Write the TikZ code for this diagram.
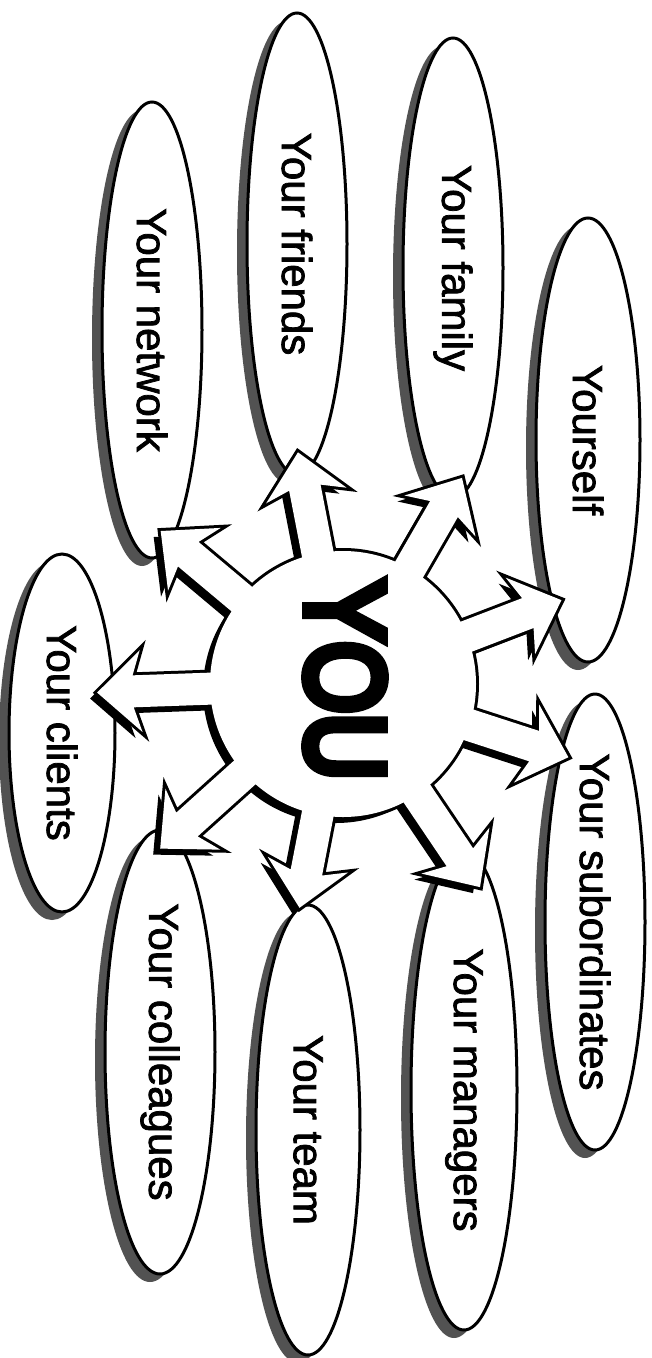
\documentclass[tikz,border=0pt]{standalone}
\usepackage{fontspec}
\setmainfont{Liberation Sans}
\newfontfamily\lblfont{Liberation Sans}[RawFeature={embolden=1.8}]
\newfontfamily\youfont{Liberation Sans}[RawFeature={embolden=9}]
\usetikzlibrary{shapes.geometric}
\tikzset{
  lbl/.style={font=\lblfont\fontsize{42}{48}\selectfont, rotate=-90, inner sep=0pt},
  ell/.style={draw=black, line width=3pt, fill=white},
  eshadow/.style={fill=black!68},
}
\def\hx{343}
\def\hy{684}
\newcommand\bub[6]{%
  \fill[eshadow] (#2-10,#3+8) ellipse [x radius=#4, y radius=#5];
  \draw[ell] (#2,#3) ellipse [x radius=#4, y radius=#5];
  \node[lbl] (#1) at (#2,#3) {#6};
}
\newcommand\hubshape[1]{%
  \path[#1] (\hx,\hy) circle [radius=133];
  \foreach \a/\l in {-140/238,-101/236,-60/238,-21/234,18/237,56/245,101/228,138/246,178/246}{
    \path[#1, shift={(\hx,\hy)}, rotate=-\a]
      (0,-16) -- (\l-36,-16) -- (\l-44,-41) -- (\l,0) -- (\l-44,41) -- (\l-36,16) -- (0,16) -- cycle;
  }
}
\begin{document}
\begin{tikzpicture}[x=1pt,y=-1pt]
\useasboundingbox (0,0) rectangle (651,1358);
\fill[white] (0,0) rectangle (651,1358);
% ellipses
\bub{network}{152}{330}{50}{228}{Your network}
\bub{friends}{297}{244}{50}{231}{Your friends}
\bub{family}{453}{268}{50}{230}{Your family}
\bub{yourself}{588}{440}{52}{222}{Yourself}
\bub{subordinates}{595}{922}{50}{228}{Your subordinates}
\bub{managers}{464}{1090}{53}{240}{Your managers}
\bub{team}{308}{1130}{52}{225}{Your team}
\bub{colleagues}{160}{1052}{55}{222}{Your colleagues}
\bub{clients}{62}{733}{53}{179}{Your clients}
% hub
\coordinate (hub) at (\hx,\hy);
\hubshape{fill=black, shift={(-7,6)}}
\hubshape{draw=black, line width=6pt, line join=miter}
\hubshape{fill=white}
\node[font=\youfont\fontsize{110}{120}\selectfont, rotate=-90, inner sep=0pt] (you) at (345,680) {\scalebox{0.84}[1]{YOU}};
\end{tikzpicture}
\end{document}
